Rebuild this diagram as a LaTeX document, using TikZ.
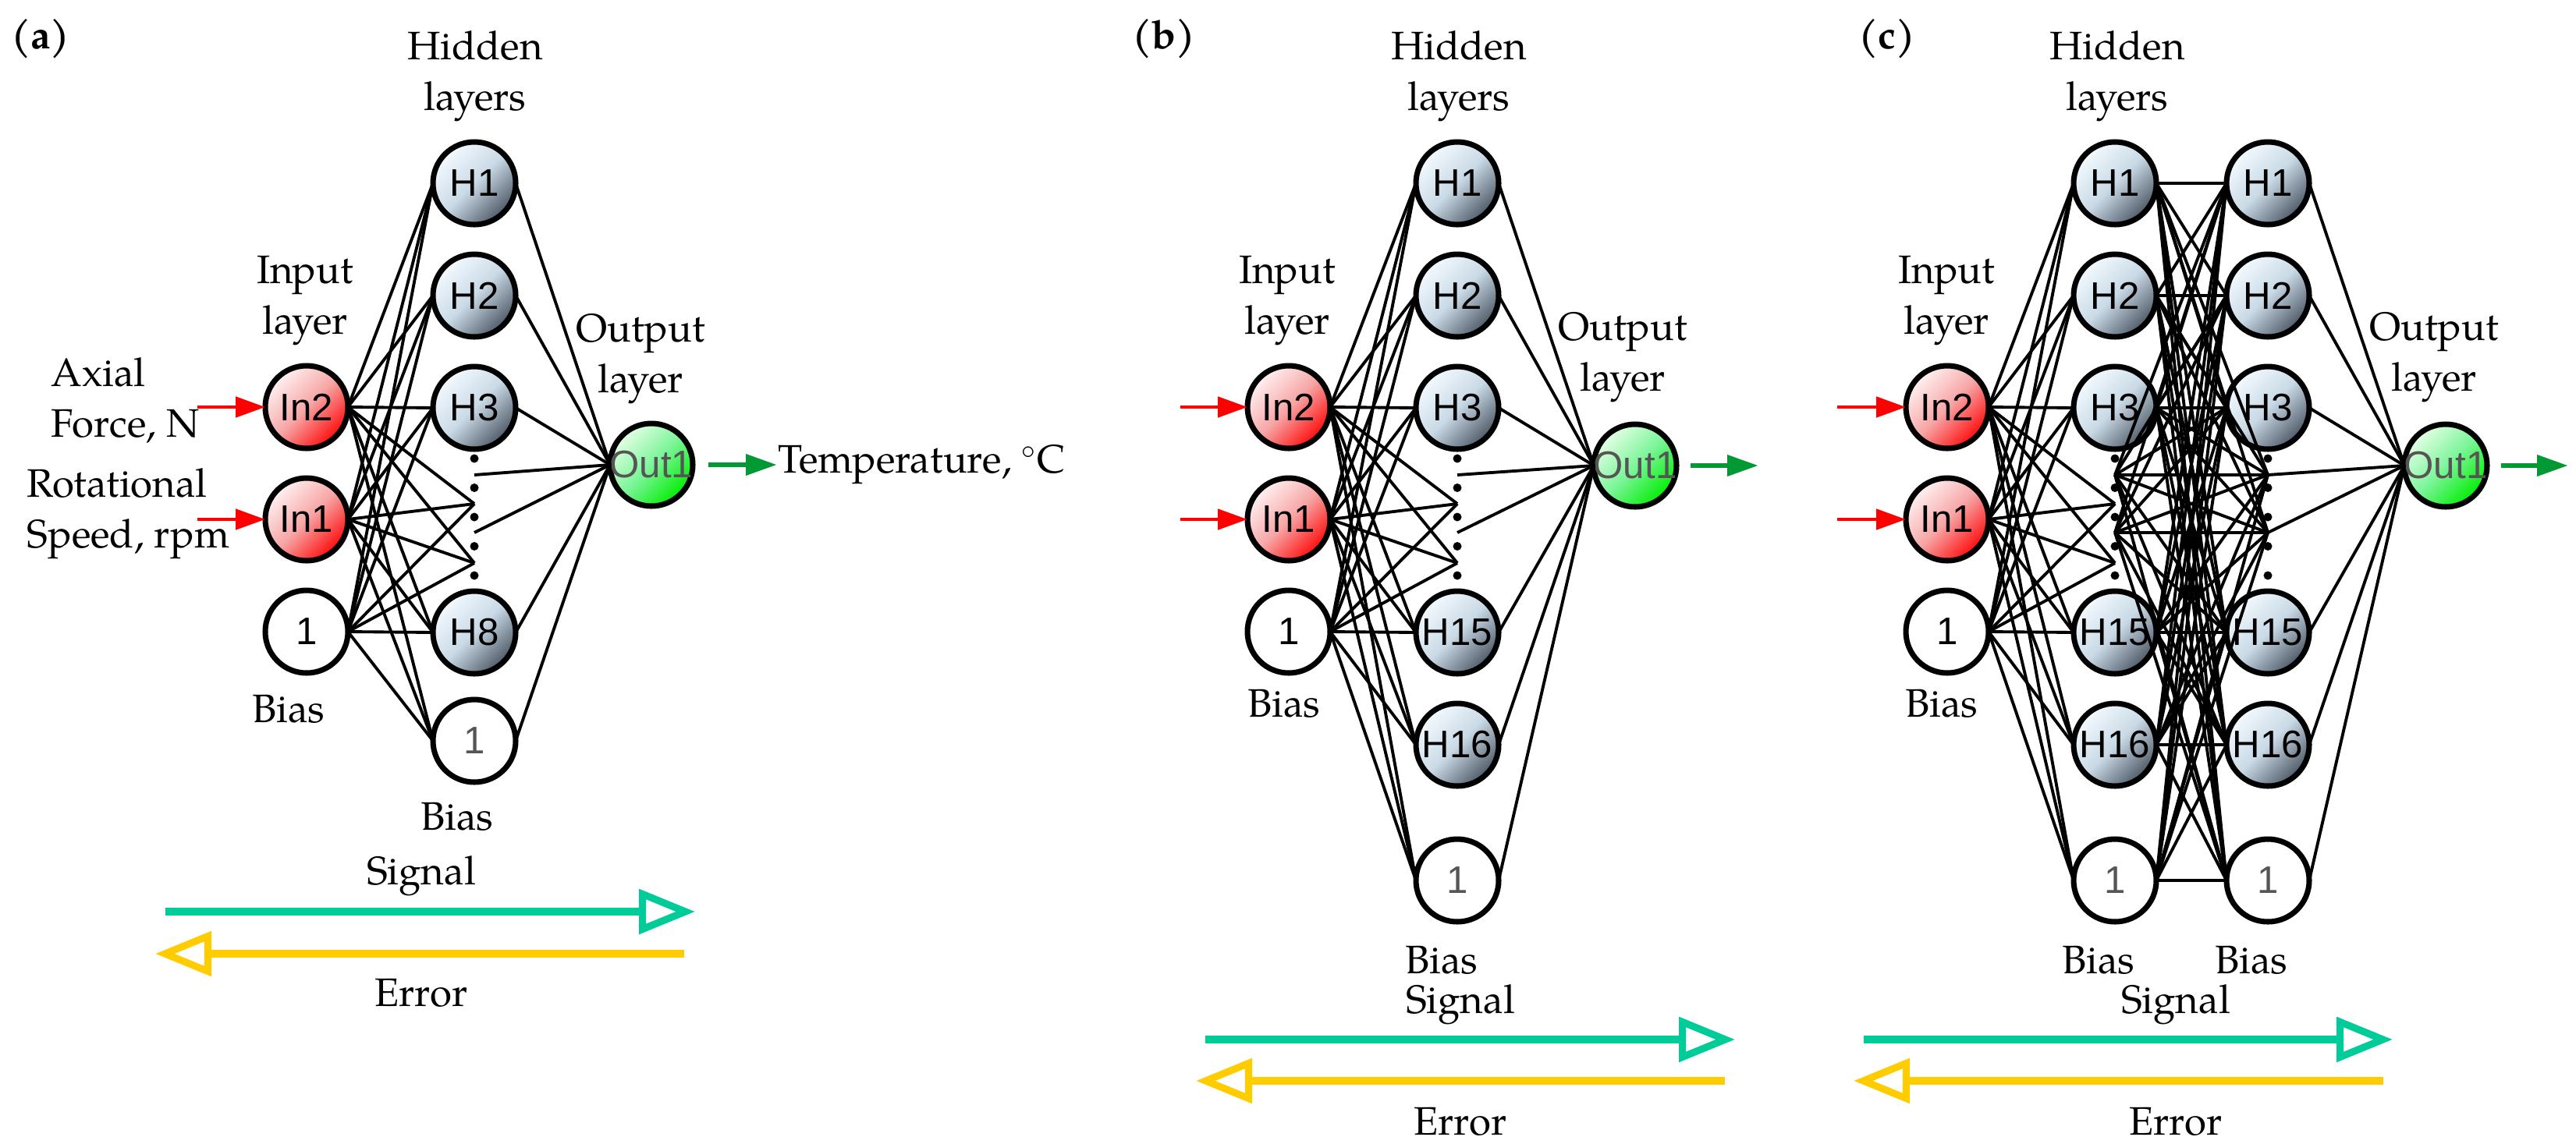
\documentclass[tikz,border=0pt]{standalone}
\usepackage{fontspec}
\setmainfont{TeX Gyre Pagella}
\newfontfamily\nodefont{Liberation Sans}
\usetikzlibrary{positioning,arrows.meta}

\definecolor{hidA}{HTML}{F4FAFF}
\definecolor{hidB}{HTML}{C9DAE6}
\definecolor{hidC}{HTML}{4F5966}
\definecolor{inpA}{HTML}{FFF2F2}
\definecolor{inpB}{HTML}{F7A6A6}
\definecolor{inpC}{HTML}{FF0A0A}
\definecolor{outA}{HTML}{E6FFE6}
\definecolor{outB}{HTML}{7CF59A}
\definecolor{outC}{HTML}{00EE00}
\definecolor{txtgray}{HTML}{555555}
\definecolor{greenarr}{HTML}{009933}
\definecolor{sigcol}{HTML}{00CC99}
\definecolor{errcol}{HTML}{FFCC00}

\begin{document}
\begin{tikzpicture}[
		neuron/.style = {
			draw, circle, line width=2pt,
			minimum size=1.06cm,
			inner sep=0cm, outer sep=0cm,
			font=\nodefont\fontsize{14}{16}\selectfont
		},
		hid/.style = {neuron, top color=hidA, bottom color=hidC, middle color=hidB, shading angle=45},
		inp/.style = {neuron, top color=inpA, bottom color=inpC, middle color=inpB, shading angle=45},
		outn/.style = {neuron, top color=outA, bottom color=outC, middle color=outB, shading angle=45, text=txtgray},
		bias/.style = {neuron, fill=white},
		hbias/.style = {bias, text=txtgray},
		hdot/.style = {circle, fill=black, inner sep=0cm, minimum size=0.11cm},
		link/.style = {line width=1.1pt},
		feedarrow/.style = {draw=red, line width=1.4pt, -{Triangle[length=0.38cm,width=0.26cm]}},
		outarrow/.style = {draw=greenarr, line width=1.9pt, -{Triangle[length=0.40cm,width=0.26cm]}},
		sigarrow/.style = {draw=sigcol, line width=2.6pt, -{Triangle[open,length=0.72cm,width=0.56cm]}},
		errarrow/.style = {draw=errcol, line width=2.6pt, -{Triangle[open,length=0.72cm,width=0.56cm]}},
		txt/.style = {font=\fontsize{14.5}{18.5}\selectfont, align=center, inner sep=0cm}
		]
		\useasboundingbox (0,0) rectangle (33.02,-14.66);

		% (a) one hidden layer
		\node[txt] (ta) at (0.52,-0.50) {\bfseries (a)};
		\node[hid] (a1) at (6.08,-2.35) {H1};
		\node[hid, below=0.38cm of a1] (a2) {H2};
		\node[hid, below=0.38cm of a2] (a3) {H3};
		\node[hid, below=1.82cm of a3] (a8) {H8};
		\node[hbias, below=0.33cm of a8] (ab) {1};
		\node[inp] (ai2) at (3.93,-5.22) {In2};
		\node[inp, below=0.38cm of ai2] (ai1) {In1};
		\node[bias, below=0.38cm of ai1] (aib) {1};
		\node[outn] (ao) at (8.35,-5.96) {\makebox[0pt]{Out1}};
		\coordinate (ap1) at ([yshift=-1.23cm]a3.center);
		\coordinate (ap2) at ([yshift=-1.99cm]a3.center);
		\coordinate (aq1) at ([yshift=-0.86cm]a3.center);
		\coordinate (aq2) at ([yshift=-1.60cm]a3.center);
		\foreach \i in {ai2,ai1,aib} {
			\foreach \h in {a1,a2,a3,a8,ab}
				\draw[link] (\i.east) -- (\h.west);
			\draw[link] (\i.east) -- (ap1);
			\draw[link] (\i.east) -- (ap2);
		}
		\foreach \h in {a1,a2,a3,a8,ab}
			\draw[link] (\h.east) -- (ao.west);
		\draw[link] (aq1) -- (ao.west);
		\draw[link] (aq2) -- (ao.west);
		\foreach \y in {0.65,1.025,1.4,1.775,2.15}
			\node[hdot] at ([yshift=-\y cm]a3.center) {};
		\coordinate[left=0.87cm of ai2.west] (ax2);
		\coordinate[left=0.87cm of ai1.west] (ax1);
		\draw[feedarrow] (ax2) -- (ai2.west);
		\draw[feedarrow] (ax1) -- (ai1.west);
		\coordinate[right=0.20cm of ao.east] (ay0);
		\coordinate[right=1.08cm of ao.east] (ay1);
		\draw[outarrow] (ay0) -- (ay1);
		\node[txt, right=0.01cm of ay1] (atemp) {Temperature, $^{\circ}$C};
		\node[txt] (ahid) at (6.09,-0.98) {Hidden\\layers};
		\node[txt] (ainl) at (3.91,-3.86) {Input\\layer};
		\node[txt] (aoutl) at (8.21,-4.60) {Output\\layer};
		\node[txt, anchor=west, align=left] (af) at (0.65,-5.13) {Axial\\Force, N};
		\node[txt, anchor=west, align=left] (as) at (0.34,-6.59) {Rotational\\Speed, rpm};
		\node[txt] (abi) at (3.70,-9.09) {Bias};
		\node[txt] (abh) at (5.86,-10.47) {Bias};
		\coordinate (as0) at (2.12,-11.69);
		\coordinate (as1) at (8.91,-11.69);
		\coordinate (ae0) at (8.77,-12.23);
		\coordinate (ae1) at (1.99,-12.23);
		\draw[sigarrow] (as0) -- (as1);
		\draw[errarrow] (ae0) -- (ae1);
		\node[txt] (asig) at (5.40,-11.23) {Signal};
		\node[txt] (aerr) at (5.40,-12.73) {Error};

		% (b) one wide hidden layer
		\node[txt] (tb) at (14.92,-0.50) {\bfseries (b)};
		\node[hid] (b1) at (18.68,-2.35) {H1};
		\node[hid, below=0.38cm of b1] (b2) {H2};
		\node[hid, below=0.38cm of b2] (b3) {H3};
		\node[hid, below=1.82cm of b3] (b15) {H15};
		\node[hid, below=0.38cm of b15] (b16) {H16};
		\node[hbias, below=0.68cm of b16] (bb) {1};
		\node[inp] (bi2) at (16.52,-5.22) {In2};
		\node[inp, below=0.38cm of bi2] (bi1) {In1};
		\node[bias, below=0.38cm of bi1] (bib) {1};
		\node[outn] (bo) at (20.96,-5.97) {\makebox[0pt]{Out1}};
		\coordinate (bp1) at ([yshift=-1.23cm]b3.center);
		\coordinate (bp2) at ([yshift=-1.99cm]b3.center);
		\coordinate (bq1) at ([yshift=-0.86cm]b3.center);
		\coordinate (bq2) at ([yshift=-1.60cm]b3.center);
		\foreach \i in {bi2,bi1,bib} {
			\foreach \h in {b1,b2,b3,b15,b16,bb}
				\draw[link] (\i.east) -- (\h.west);
			\draw[link] (\i.east) -- (bp1);
			\draw[link] (\i.east) -- (bp2);
		}
		\foreach \h in {b1,b2,b3,b15,b16,bb}
			\draw[link] (\h.east) -- (bo.west);
		\draw[link] (bq1) -- (bo.west);
		\draw[link] (bq2) -- (bo.west);
		\foreach \y in {0.65,1.025,1.4,1.775,2.15}
			\node[hdot] at ([yshift=-\y cm]b3.center) {};
		\coordinate[left=0.86cm of bi2.west] (bx2);
		\coordinate[left=0.86cm of bi1.west] (bx1);
		\draw[feedarrow] (bx2) -- (bi2.west);
		\draw[feedarrow] (bx1) -- (bi1.west);
		\coordinate[right=0.18cm of bo.east] (by0);
		\coordinate[right=1.05cm of bo.east] (by1);
		\draw[outarrow] (by0) -- (by1);
		\node[txt] (bhid) at (18.70,-0.98) {Hidden\\layers};
		\node[txt] (binl) at (16.50,-3.86) {Input\\layer};
		\node[txt] (boutl) at (20.80,-4.58) {Output\\layer};
		\node[txt] (bbi) at (16.46,-9.02) {Bias};
		\node[txt] (bbh) at (18.48,-12.31) {Bias};
		\coordinate (bs0) at (15.45,-13.33);
		\coordinate (bs1) at (22.24,-13.33);
		\coordinate (be0) at (22.11,-13.86);
		\coordinate (be1) at (15.33,-13.86);
		\draw[sigarrow] (bs0) -- (bs1);
		\draw[errarrow] (be0) -- (be1);
		\node[txt] (bsig) at (18.72,-12.88) {Signal};
		\node[txt] (berr) at (18.72,-14.38) {Error};

		% (c) two hidden layers
		\node[txt] (tc) at (24.19,-0.50) {\bfseries (c)};
		\node[hid] (cx1) at (27.11,-2.35) {H1};
		\node[hid, below=0.38cm of cx1] (cx2) {H2};
		\node[hid, below=0.38cm of cx2] (cx3) {H3};
		\node[hid, below=1.82cm of cx3] (cx15) {H15};
		\node[hid, below=0.38cm of cx15] (cx16) {H16};
		\node[hbias, below=0.68cm of cx16] (cxb) {1};
		\node[hid] (cy1) at (29.07,-2.35) {H1};
		\node[hid, below=0.38cm of cy1] (cy2) {H2};
		\node[hid, below=0.38cm of cy2] (cy3) {H3};
		\node[hid, below=1.82cm of cy3] (cy15) {H15};
		\node[hid, below=0.38cm of cy15] (cy16) {H16};
		\node[hbias, below=0.68cm of cy16] (cyb) {1};
		\node[inp] (ci2) at (24.96,-5.22) {In2};
		\node[inp, below=0.38cm of ci2] (ci1) {In1};
		\node[bias, below=0.38cm of ci1] (cib) {1};
		\node[outn] (co) at (31.35,-5.97) {\makebox[0pt]{Out1}};
		\coordinate (cxp1) at ([yshift=-1.23cm]cx3.center);
		\coordinate (cxp2) at ([yshift=-1.99cm]cx3.center);
		\coordinate (cxq1) at ([yshift=-0.86cm]cx3.center);
		\coordinate (cxq2) at ([yshift=-1.60cm]cx3.center);
		\coordinate (cyq1) at ([yshift=-0.86cm]cy3.center);
		\coordinate (cyq2) at ([yshift=-1.60cm]cy3.center);
		\foreach \i in {ci2,ci1,cib} {
			\foreach \h in {cx1,cx2,cx3,cx15,cx16,cxb}
				\draw[link] (\i.east) -- (\h.west);
			\draw[link] (\i.east) -- (cxp1);
			\draw[link] (\i.east) -- (cxp2);
		}
		\foreach \h in {cx1,cx2,cx3,cx15,cx16,cxb} {
			\foreach \g in {cy1,cy2,cy3,cy15,cy16,cyb}
				\draw[link] (\h.east) -- (\g.west);
			\draw[link] (\h.east) -- (cyq1);
			\draw[link] (\h.east) -- (cyq2);
		}
		\foreach \q in {cxq1,cxq2} {
			\foreach \g in {cy1,cy2,cy3,cy15,cy16,cyb}
				\draw[link] (\q) -- (\g.west);
			\draw[link] (\q) -- (cyq1);
			\draw[link] (\q) -- (cyq2);
		}
		\foreach \g in {cy1,cy2,cy3,cy15,cy16,cyb}
			\draw[link] (\g.east) -- (co.west);
		\draw[link] (cyq1) -- (co.west);
		\draw[link] (cyq2) -- (co.west);
		\foreach \y in {0.65,1.025,1.4,1.775,2.15} {
			\node[hdot] at ([yshift=-\y cm]cx3.center) {};
			\node[hdot] at ([yshift=-\y cm]cy3.center) {};
		}
		\coordinate[left=0.88cm of ci2.west] (cx2a);
		\coordinate[left=0.88cm of ci1.west] (cx1a);
		\draw[feedarrow] (cx2a) -- (ci2.west);
		\draw[feedarrow] (cx1a) -- (ci1.west);
		\coordinate[right=0.18cm of co.east] (cy0);
		\coordinate[right=1.04cm of co.east] (cyz);
		\draw[outarrow] (cy0) -- (cyz);
		\node[txt] (chid) at (27.14,-0.98) {Hidden\\layers};
		\node[txt] (cinl) at (24.95,-3.86) {Input\\layer};
		\node[txt] (coutl) at (31.20,-4.58) {Output\\layer};
		\node[txt] (cbi) at (24.89,-9.02) {Bias};
		\node[txt] (cbh1) at (26.90,-12.31) {Bias};
		\node[txt] (cbh2) at (28.86,-12.31) {Bias};
		\coordinate (cs0) at (23.89,-13.33);
		\coordinate (cs1) at (30.67,-13.33);
		\coordinate (ce0) at (30.55,-13.86);
		\coordinate (ce1) at (23.76,-13.86);
		\draw[sigarrow] (cs0) -- (cs1);
		\draw[errarrow] (ce0) -- (ce1);
		\node[txt] (csig) at (27.89,-12.88) {Signal};
		\node[txt] (cerr) at (27.89,-14.38) {Error};
	\end{tikzpicture}
\end{document}
